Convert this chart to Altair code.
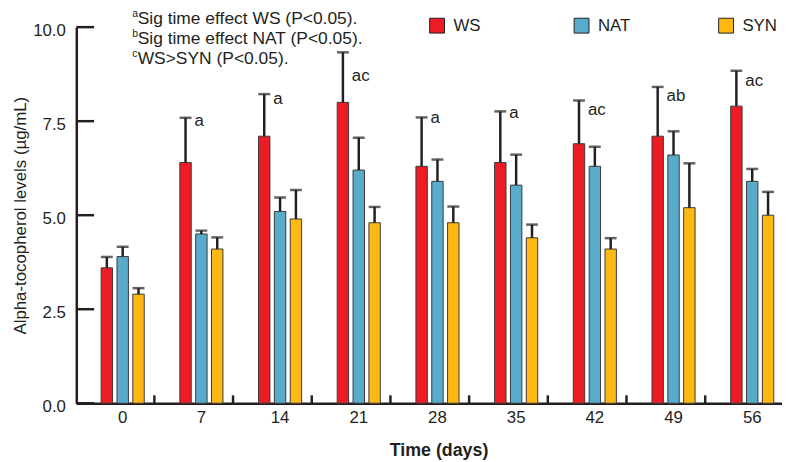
import altair as alt
import pandas as pd

days = ["0", "7", "14", "21", "28", "35", "42", "49", "56"]
groups = ["WS", "NAT", "SYN"]
ws_mean = [3.6, 6.4, 7.1, 8.0, 6.3, 6.4, 6.9, 7.1, 7.9]
ws_err = [0.29, 1.19, 1.12, 1.33, 1.30, 1.36, 1.15, 1.31, 0.94]
nat_mean = [3.9, 4.5, 5.1, 6.2, 5.9, 5.8, 6.3, 6.6, 5.9]
nat_err = [0.26, 0.09, 0.37, 0.86, 0.58, 0.81, 0.52, 0.63, 0.33]
syn_mean = [2.9, 4.1, 4.9, 4.8, 4.8, 4.4, 4.1, 5.2, 5.0]
syn_err = [0.16, 0.31, 0.77, 0.42, 0.43, 0.35, 0.29, 1.18, 0.62]
sig_labels = ["", "a", "a", "ac", "a", "a", "ac", "ab", "ac"]
sig_label_y = [0.0, 7.50, 8.09, 8.71, 7.58, 7.71, 7.79, 8.18, 8.58]
colors = ["#ED1C24", "#59ABCB", "#FDB813"]
y_ticks = [0, 2.5, 5, 7.5, 10]
note_lines = ["Sig time effect WS (P<0.05).", "Sig time effect NAT (P<0.05).", "WS>SYN (P<0.05)."]
note_marks = ["a", "b", "c"]

DARK = "#231f20"
W, H = 713, 380

rows = []
for g, means, errs in zip(groups, [ws_mean, nat_mean, syn_mean], [ws_err, nat_err, syn_err]):
    for d, m, e in zip(days, means, errs):
        rows.append({"day": d, "group": g, "mean": m, "upper": m + e})
df = pd.DataFrame(rows)

lab_df = pd.DataFrame({"day": days, "group": ["WS"] * len(days), "label": sig_labels, "ly": sig_label_y})
lab_df = lab_df[lab_df["label"] != ""]
ytick_df = pd.DataFrame({"v": y_ticks})
xtick_df = pd.DataFrame({"day": days[:-1]})
one = pd.DataFrame({"k": [0]})

x_scale = alt.Scale(domain=days, paddingInner=0.396, paddingOuter=0.182, align=0.79, round=False)
xo_scale = alt.Scale(domain=groups, paddingInner=0.28, paddingOuter=0.14, round=False)
y_scale = alt.Scale(domain=[0, 10], nice=False, zero=True)

x_enc = alt.X(
    "day:N", sort=days, scale=x_scale,
    axis=alt.Axis(
        title="Time (days)", labelAngle=0, ticks=False, labelPadding=6,
        labelFontSize=17, labelColor=DARK, domainColor=DARK, domainWidth=2.5,
        titleFontSize=18, titleFontWeight="bold", titleColor=DARK,
        titleX=366, titleY=53, titleBaseline="alphabetic", titleAlign="center",
    ),
)
xo_enc = alt.XOffset("group:N", sort=groups, scale=xo_scale)
y_enc = alt.Y(
    "mean:Q", scale=y_scale,
    axis=alt.Axis(
        title="Alpha-tocopherol levels (µg/mL)", values=y_ticks, format=".1f",
        ticks=False, grid=False, labelPadding=11, labelFontSize=17, labelColor=DARK,
        labelOffset=3, domainColor=DARK, domainWidth=2.5,
        titleFontSize=17, titleFontWeight="normal", titleColor=DARK,
        titleX=-56, titleY=H / 2, titleAngle=-90, titleBaseline="middle", titleAlign="center",
    ),
)

bars = alt.Chart(df).mark_bar(stroke="#3a3a3a", strokeWidth=1).encode(
    x=x_enc, xOffset=xo_enc, y=y_enc,
    color=alt.Color(
        "group:N", sort=groups, scale=alt.Scale(domain=groups, range=colors),
        legend=alt.Legend(
            orient="none", legendX=356, legendY=-10, direction="horizontal", title=None,
            symbolType="square", symbolSize=225, symbolStrokeColor=DARK, symbolStrokeWidth=1,
            symbolOpacity=1, labelFontSize=17, labelColor=DARK, labelOffset=8,
            columnPadding=85, gridAlign="all", padding=0,
        ),
    ),
)

err = alt.Chart(df).mark_rule(color=DARK, strokeWidth=2.5).encode(
    x=alt.X("day:N", sort=days), xOffset=alt.XOffset("group:N", sort=groups),
    y="mean:Q", y2="upper:Q",
)
caps = alt.Chart(df).mark_tick(color=DARK, thickness=2.5, size=12, orient="horizontal").encode(
    x=alt.X("day:N", sort=days), xOffset=alt.XOffset("group:N", sort=groups),
    y="upper:Q",
)
labels = alt.Chart(lab_df).mark_text(
    align="left", baseline="middle", dx=9, fontSize=17, color=DARK
).encode(
    x=alt.X("day:N", sort=days), xOffset=alt.XOffset("group:N", sort=groups),
    y="ly:Q", text="label:N",
)
yticks = alt.Chart(ytick_df).mark_rule(color=DARK, strokeWidth=2.5).encode(
    y="v:Q", x=alt.value(0), x2=alt.value(18),
)
xticks = alt.Chart(xtick_df).mark_rule(color=DARK, strokeWidth=2.5, xOffset=32).encode(
    x=alt.X("day:N", sort=days), y=alt.value(H), y2=alt.value(H - 8),
)
note = alt.Chart(one).mark_text(
    text=note_lines, align="left", baseline="alphabetic", fontSize=17.6, lineHeight=20,
    color=DARK
).encode(x=alt.value(62), y=alt.value(-3))
note_sup = alt.Chart(one).mark_text(
    text=note_marks, align="left", baseline="alphabetic", fontSize=10.5, lineHeight=20,
    color=DARK
).encode(x=alt.value(56.5), y=alt.value(-10))

chart = alt.layer(bars, err, caps, labels, yticks, xticks, note, note_sup).properties(
    width=W, height=H,
    autosize=alt.AutoSizeParams(type="none"),
    padding={"left": 69, "top": 17, "right": 0, "bottom": 56},
).configure(font="Liberation Sans").configure_view(stroke=None).configure_scale(round=False)

chart.save("out.html", embed_options={"renderer": "svg", "actions": False})
